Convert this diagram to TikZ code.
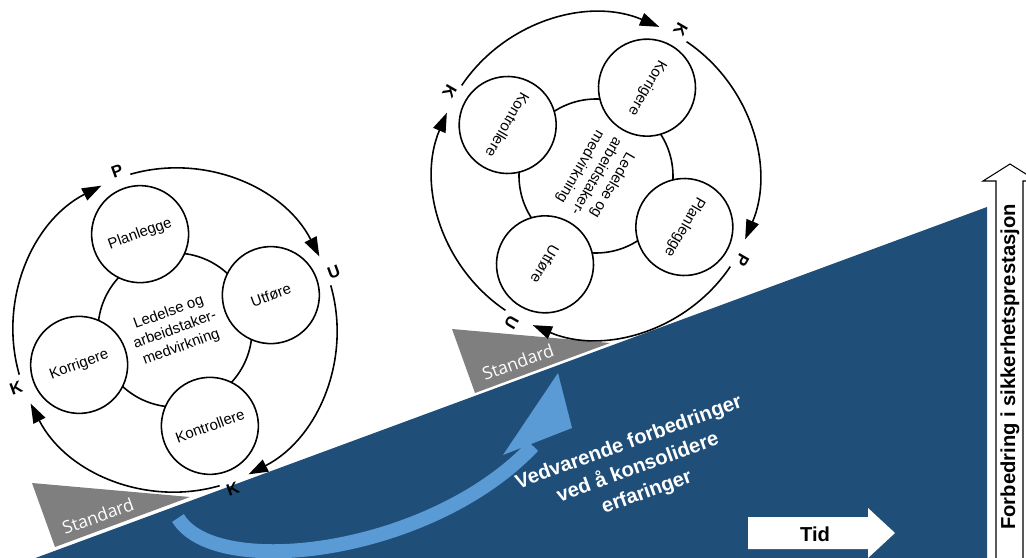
\documentclass[tikz,border=0pt]{standalone}
\usepackage{fontspec}
\setmainfont{Liberation Sans}
\newfontfamily\stdfont{Open Sans}
\usetikzlibrary{arrows.meta}

\definecolor{slopeblue}{RGB}{31,78,121}
\definecolor{liftblue}{RGB}{91,155,213}
\definecolor{stdgray}{RGB}{127,127,127}

\tikzset{
  core/.style={circle, draw, line width=0.9pt, minimum size=3.08cm, inner sep=0pt, align=center, font=\fontsize{8.5}{10.5}\selectfont},
  phase/.style={circle, draw, line width=0.9pt, fill=white, minimum size=1.94cm, inner sep=0pt, font=\fontsize{8.5}{10}\selectfont},
  letter/.style={font=\bfseries\fontsize{9.5}{10}\selectfont, inner sep=0pt},
  ring/.style={line width=0.9pt, -{Triangle[length=11pt,width=7.5pt]}},
  stdtext/.style={text=white, font=\stdfont\fontsize{10}{12}\selectfont, rotate=20},
}

% one PDCA wheel: #1 name prefix, #2 centre, #3 turn
\newcommand{\pdcawheel}[3]{%
  \begin{scope}[shift={#2}, rotate=#3, x=0.02cm, y=0.02cm]
    \node[core, rotate=#3] (#1hub) at (0,0) {Ledelse og\\arbeidstaker-\\medvirkning};
    \node[phase, rotate=#3] (#1plan) at (90:102) {Planlegge};
    \node[phase, rotate=#3] (#1do) at (0:102) {Utføre};
    \node[phase, rotate=#3] (#1check) at (-90:102) {Kontrollere};
    \node[phase, rotate=#3] (#1act) at (180:102) {Korrigere};
    \foreach \ang/\lbl/\n in {90/P/1,0/U/2,-90/K/3,180/K/4}
      \node[letter, rotate=#3] (#1tag\n) at (\ang:169) {\lbl};
    \foreach \ang in {90,0,-90,180}
      \draw[ring] (\ang-4:162) arc[start angle=\ang-4, end angle=\ang-83, radius=162];
  \end{scope}}

\begin{document}
\begin{tikzpicture}[x=0.02cm, y=-0.02cm]
  \useasboundingbox (0,0) rectangle (1026,557);
  \clip (0,0) rectangle (1026,557);
  % rising level
  \fill[slopeblue] (30,560) -- (987,207) -- (987,560) -- cycle;
  % standard wedges
  \fill[stdgray] (32,483) -- (190,497) -- (55,547) -- cycle;
  \fill[stdgray] (452,329) -- (610,343) -- (475,393) -- cycle;
  \node[stdtext] (std1) at (98,516) {Standard};
  \node[stdtext] (std2) at (518,362) {Standard};
  % lift arrow
  \draw[liftblue, line width=8pt] (178,518) .. controls (215,580) and (430,555) .. (533,446);
  \fill[liftblue] (503,455) -- (558,373) -- (572,428) -- cycle;
  \node[text=white, font=\bfseries\fontsize{11.5}{15}\selectfont, align=center, rotate=20] (lift) at (638,468) {Vedvarende forbedringer\\ved å konsolidere\\erfaringer};
  % time arrow
  \fill[white] (748,517) -- (868,517) -- (868,508) -- (895,533) -- (868,558) -- (868,549) -- (748,549) -- cycle;
  \node[font=\bfseries\fontsize{11.5}{13}\selectfont] (tid) at (815,534) {Tid};
  % performance axis
  \draw[line width=0.6pt, fill=white] (996,560) -- (996,181) -- (983,181) -- (1010,164) -- (1037,181) -- (1023,181) -- (1023,560) -- cycle;
  \node[rotate=90, font=\bfseries\fontsize{11.5}{13}\selectfont] (gain) at (1010,367) {Forbedring i sikkerhetsprestasjon};
  % wheels
  \pdcawheel{L}{(175,330)}{20}
  \pdcawheel{R}{(596,176)}{-120}
\end{tikzpicture}
\end{document}
